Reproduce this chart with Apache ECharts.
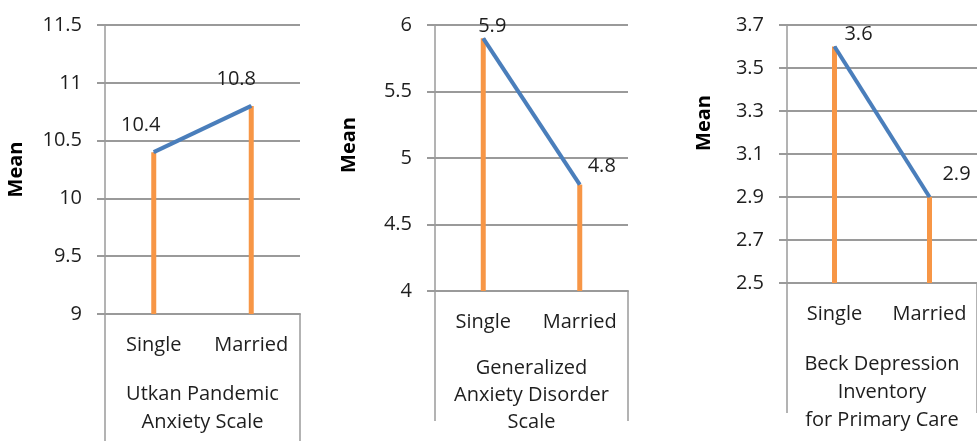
<!DOCTYPE html>
<html>
<head>
<meta charset="utf-8">
<script src="https://cdn.jsdelivr.net/npm/echarts@6/dist/echarts.min.js"></script>
<style>html,body{margin:0;padding:0;background:#fff;}#c{width:977px;height:441px;}</style>
</head>
<body>
<div id="c"></div>
<script>
// ---- data ----
var categories = ['Single', 'Married'];
var panelTitles = ['Utkan Pandemic\nAnxiety Scale', 'Generalized\nAnxiety Disorder\nScale', 'Beck Depression\nInventory\nfor Primary Care'];
var upasValues = [10.4, 10.8];
var gadValues = [5.9, 4.8];
var bdiValues = [3.6, 2.9];
var yMins = [9, 4, 2.5];
var yMaxs = [11.5, 6, 3.7];
var yIntervals = [0.5, 0.5, 0.2];

// ---- layout / style ----
var grids = [
  {left: 105, top: 25, width: 195, height: 294},
  {left: 435, top: 25, width: 193, height: 269},
  {left: 787, top: 25, width: 197, height: 258}
];
var nameGaps = [66, 64, 67];
var nameLineHeights = [28, 27, 28];
var meanGaps = [79, 76, 73];
var meanShift = [0, 26, 62];
var labelOffsets = [
  [[-13, -4], [-15, -4]],
  [[9, 10], [22, 4]],
  [[24, 10], [27, 0]]
];
var FONT = 'Open Sans';
var FS = 20;
var GRID_C = '#9a9a9a';
var ORANGE = '#f79646';
var BLUE = '#4a7ebb';
var TEXT = '#1e1e1e';

var seriesValues = [upasValues, gadValues, bdiValues];
var chart = echarts.init(document.getElementById('c'), null, {renderer: 'canvas'});

var xAxes = [], yAxes = [], series = [];
for (var i = 0; i < 3; i++) {
  xAxes.push({
    type: 'category', gridIndex: i, data: categories, boundaryGap: true,
    axisLine: {show: true, lineStyle: {color: GRID_C, width: 2}},
    axisTick: {show: true, length: 130, interval: function (idx) { return idx === 0; },
               lineStyle: {color: GRID_C, width: 1.5}},
    axisLabel: {fontFamily: FONT, fontSize: FS, color: TEXT, margin: 21, interval: 0, hideOverlap: false},
    name: panelTitles[i], nameLocation: 'middle', nameGap: nameGaps[i],
    nameTextStyle: {fontFamily: FONT, fontSize: FS, color: TEXT, lineHeight: nameLineHeights[i], verticalAlign: 'top'}
  });
  yAxes.push({
    type: 'value', gridIndex: i, min: yMins[i], max: yMaxs[i], interval: yIntervals[i],
    axisLine: {show: true, lineStyle: {color: GRID_C, width: 1.5}},
    axisTick: {show: true, length: 8, lineStyle: {color: GRID_C, width: 2}},
    splitLine: {show: true, lineStyle: {color: GRID_C, width: 2}},
    axisLabel: {fontFamily: FONT, fontSize: FS, color: TEXT, margin: 23,
      formatter: function (v) { return String(Math.round(v * 10) / 10); }},
    name: 'Mean', nameLocation: 'middle', nameRotate: 90,
    nameGap: meanGaps[i],
    nameTextStyle: {fontFamily: FONT, fontSize: FS, fontWeight: 'bold', color: '#000',
      padding: [0, 0, 0, meanShift[i]]}
  });
  series.push({
    type: 'bar', xAxisIndex: i, yAxisIndex: i, data: seriesValues[i].slice(),
    barWidth: 5, itemStyle: {color: ORANGE}, clip: true, silent: true, z: 2
  });
  series.push({
    type: 'line', xAxisIndex: i, yAxisIndex: i,
    data: seriesValues[i].map(function (v, k) {
      return {value: v, label: {offset: labelOffsets[i][k]}};
    }),
    lineStyle: {color: BLUE, width: 4}, symbol: 'circle', symbolSize: 1, showSymbol: true,
    itemStyle: {color: BLUE}, z: 3,
    label: {show: true, position: 'top', distance: 12, fontFamily: FONT, fontSize: FS, color: TEXT,
      formatter: function (p) { return p.value.toFixed(1); }}
  });
}

chart.setOption({
  animation: false,
  backgroundColor: '#fff',
  grid: grids,
  xAxis: xAxes,
  yAxis: yAxes,
  series: series
});
</script>
</body>
</html>
